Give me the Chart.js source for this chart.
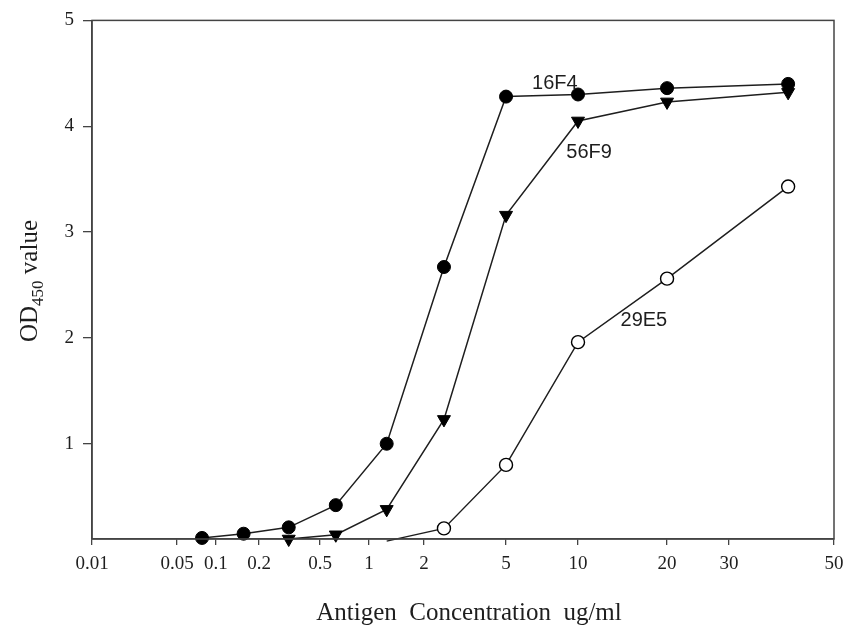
<!DOCTYPE html>
<html>
<head>
<meta charset="utf-8">
<script src="https://cdn.jsdelivr.net/npm/chart.js@4.4.1/dist/chart.umd.min.js"></script>
<style>
  html, body { margin: 0; padding: 0; background: #fff; }
  #wrap { width: 846px; height: 626px; }
</style>
</head>
<body>
<div id="wrap"><canvas id="myChart"></canvas></div>
<script>
// antigen concentration in ug/ml (twofold dilutions)
const concentrations = [0.078, 0.156, 0.3125, 0.625, 1.25, 2.5, 5, 10, 20, 40];
// OD450 readings per antibody, null = not plotted
const od16F4 = [0.11, 0.15, 0.21, 0.42, 1.00, 2.67, 4.28, 4.30, 4.36, 4.40];
const od56F9 = [null, null, 0.10, 0.14, 0.38, 1.23, 3.16, 4.05, 4.23, 4.32];
const od29E5 = [null, null, null, null, 0.08, 0.20, 0.80, 1.96, 2.56, 3.43];
const xTicks = [0.01, 0.05, 0.1, 0.2, 0.5, 1, 2, 5, 10, 20, 30, 50];
const yTicks = [1, 2, 3, 4, 5];
const yMin = 0.1;
const yMax = 5;
// series names written beside the curves, in data units
const seriesNames = ['16F4', '56F9', '29E5'];
const nameX = [8.0, 10.9, 16.7];
const nameY = [4.40, 3.75, 2.16];

function toPoints(values) {
    var pts = [];
    for (var i = 0; i < concentrations.length; i++) {
        if (values[i] !== null) pts.push({ x: concentrations[i], y: values[i] });
    }
    return pts;
}

// the x axis of the original is not a plain log axis: each labelled tick
// has its own spot and values in between are placed logarithmically
class SpacedLogScale extends Chart.Scale {
    determineDataLimits() {
        var v = this.options.tickValues;
        this.min = v[0];
        this.max = v[v.length - 1];
    }
    buildTicks() {
        return this.options.tickValues.map(function (v) { return { value: v }; });
    }
    getLabelForValue(value) {
        return String(value);
    }
    toDecimal(value) {
        var v = this.options.tickValues, s = this.options.spots;
        if (value <= v[0]) return s[0];
        for (var i = 1; i < v.length; i++) {
            if (value <= v[i]) {
                var t = Math.log(value / v[i - 1]) / Math.log(v[i] / v[i - 1]);
                return s[i - 1] + t * (s[i] - s[i - 1]);
            }
        }
        return s[s.length - 1];
    }
    getPixelForValue(value) {
        if (value === null || isNaN(value)) return NaN;
        return this.getPixelForDecimal(this.toDecimal(value));
    }
    getValueForPixel(pixel) {
        var d = this.getDecimalForPixel(pixel);
        var v = this.options.tickValues, s = this.options.spots;
        for (var i = 1; i < s.length; i++) {
            if (d <= s[i]) {
                var t = (d - s[i - 1]) / (s[i] - s[i - 1]);
                return v[i - 1] * Math.pow(v[i] / v[i - 1], t);
            }
        }
        return v[v.length - 1];
    }
}
SpacedLogScale.id = 'spacedLog';
SpacedLogScale.defaults = {};
Chart.register(SpacedLogScale);

const ink = '#1e1e1e';

const framePlugin = {
    id: 'frame',
    afterDraw(chart) {
        const ctx = chart.ctx;
        const a = chart.chartArea;
        ctx.save();
        ctx.strokeStyle = '#444';
        ctx.lineWidth = 1.5;
        ctx.strokeRect(a.left, a.top, a.right - a.left, a.bottom - a.top);

        // axis titles
        ctx.fillStyle = ink;
        ctx.textBaseline = 'alphabetic';
        ctx.font = '25px "Liberation Serif"';
        ctx.textAlign = 'center';
        ctx.fillText('Antigen  Concentration  ug/ml', (a.left + a.right) / 2 + 6, 620);

        // OD450 value, rotated, with a subscript
        const big = '25px "Liberation Serif"', small = '17px "Liberation Serif"';
        ctx.font = big;
        const w1 = ctx.measureText('OD').width;
        const w3 = ctx.measureText(' value').width;
        ctx.font = small;
        const w2 = ctx.measureText('450').width;
        const total = w1 + w2 + w3;
        ctx.translate(37, 281);
        ctx.rotate(-Math.PI / 2);
        ctx.textAlign = 'left';
        let x = -total / 2;
        ctx.font = big;
        ctx.fillText('OD', x, 0);
        x += w1;
        ctx.font = small;
        ctx.fillText('450', x, 6);
        x += w2;
        ctx.font = big;
        ctx.fillText(' value', x, 0);
        ctx.restore();

        // curve names
        ctx.save();
        ctx.fillStyle = ink;
        ctx.font = '20px "Liberation Sans"';
        ctx.textAlign = 'center';
        ctx.textBaseline = 'middle';
        for (let i = 0; i < seriesNames.length; i++) {
            ctx.fillText(seriesNames[i], chart.scales.x.getPixelForValue(nameX[i]),
                chart.scales.y.getPixelForValue(nameY[i]));
        }
        ctx.restore();
    }
};

function hideLow(size) {
    return function (c) {
        return (c.raw && c.raw.y < yMin) ? 0 : size;
    };
}

const tickFont = { family: 'Liberation Serif', size: 19 };

new Chart(document.getElementById('myChart'), {
    type: 'line',
    data: {
        datasets: [
            {
                label: '16F4',
                data: toPoints(od16F4),
                borderColor: ink,
                borderWidth: 1.5,
                pointStyle: 'circle',
                pointRadius: hideLow(6.5),
                pointBackgroundColor: '#000',
                pointBorderColor: '#000',
                pointBorderWidth: 1,
                tension: 0,
                clip: false
            },
            {
                label: '56F9',
                data: toPoints(od56F9),
                borderColor: ink,
                borderWidth: 1.5,
                pointStyle: 'triangle',
                pointRotation: 180,
                pointRadius: hideLow(7.5),
                pointBackgroundColor: '#000',
                pointBorderColor: '#000',
                pointBorderWidth: 1,
                tension: 0,
                clip: false
            },
            {
                label: '29E5',
                data: toPoints(od29E5),
                borderColor: ink,
                borderWidth: 1.5,
                pointStyle: 'circle',
                pointRadius: hideLow(6.5),
                pointBackgroundColor: '#fff',
                pointBorderColor: '#000',
                pointBorderWidth: 1.4,
                tension: 0,
                clip: false
            }
        ]
    },
    options: {
        responsive: true,
        maintainAspectRatio: false,
        animation: false,
        layout: { padding: { top: 20, right: 12, left: 0, bottom: 0 } },
        plugins: {
            legend: { display: false },
            tooltip: { enabled: false }
        },
        scales: {
            x: {
                type: 'spacedLog',
                position: 'bottom',
                tickValues: xTicks,
                spots: [0, 0.1146, 0.1671, 0.2251, 0.3073, 0.3733, 0.4474, 0.558, 0.655, 0.775, 0.8585, 1],
                afterFit: function (scale) {
                    scale.height = 87;
                    scale.paddingLeft = 0;
                    scale.paddingRight = 0;
                },
                grid: { drawOnChartArea: false, drawTicks: true, tickLength: 6, color: '#444', lineWidth: 1.3 },
                border: { display: true, color: '#444', width: 1.5 },
                ticks: { autoSkip: false, maxRotation: 0, color: ink, font: tickFont, padding: 8 }
            },
            y: {
                type: 'linear',
                min: yMin,
                max: yMax,
                afterBuildTicks: function (scale) {
                    scale.ticks = yTicks.map(function (v) { return { value: v }; });
                },
                afterFit: function (scale) { scale.width = 92; },
                grid: { drawOnChartArea: false, drawTicks: true, tickLength: 9, color: '#444', lineWidth: 1.3 },
                border: { display: true, color: '#444', width: 1.5 },
                ticks: { color: ink, font: tickFont, padding: 9 }
            }
        }
    },
    plugins: [framePlugin]
});
</script>
</body>
</html>
